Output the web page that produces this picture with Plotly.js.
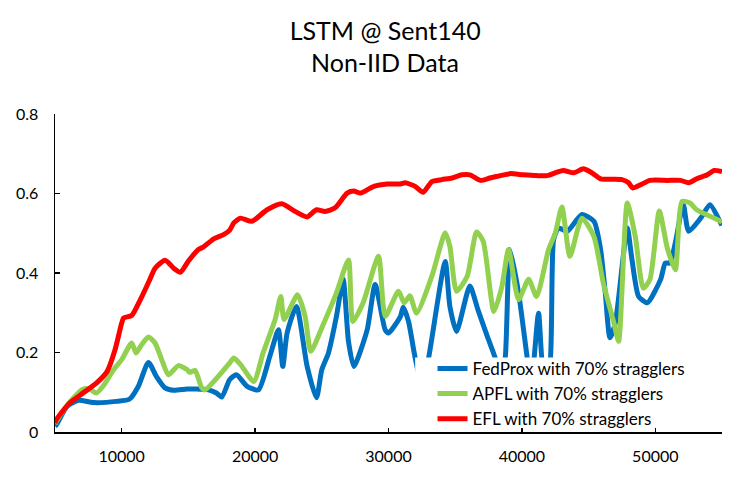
<!DOCTYPE html>
<html>
<head>
<meta charset="utf-8">
<script src="https://cdn.plot.ly/plotly-3.0.1.min.js"></script>
<style>html,body{margin:0;padding:0;background:#fff;}#chart{width:745px;height:483px;}</style>
</head>
<body>
<div id="chart"></div>
<script>
const titleLines = ['LSTM @ Sent140', 'Non-IID Data'];
const xTickVals = [10000, 20000, 30000, 40000, 50000];
const xTickText = ['10000', '20000', '30000', '40000', '50000'];
const yTickVals = [0, 0.2, 0.4, 0.6, 0.8];
const yTickText = ['0', '0.2', '0.4', '0.6', '0.8'];

const seriesNames = ['FedProx with 70% stragglers', 'APFL with 70% stragglers', 'EFL with 70% stragglers'];

const fedproxX = [5000,5100,5900,6750,7900,9600,10600,11250,12000,12600,13250,13900,14900,15600,16500,17100,17500,18100,18600,19400,20250,21100,21750,22075,22400,23100,23900,24600,25000,25500,26100,26600,27000,27400,28400,29000,29750,30000,30900,31100,31500,32000,32500,33000,34250,34600,35100,36100,36700,37400,38000,38400,38750,39100,39750,40400,40700,41250,41650,42000,42375,42750,43400,44500,45400,45900,46250,46600,47000,47900,48250,48750,49400,50400,50750,51100,51500,52100,52500,53400,54100,54900,55000];
const fedproxY = [0.015,0.018,0.064,0.080,0.074,0.077,0.083,0.115,0.175,0.140,0.111,0.105,0.108,0.108,0.106,0.098,0.088,0.132,0.144,0.115,0.106,0.190,0.257,0.165,0.249,0.316,0.165,0.086,0.157,0.199,0.291,0.384,0.228,0.165,0.257,0.371,0.257,0.249,0.291,0.314,0.278,0.186,0.120,0.186,0.429,0.316,0.253,0.367,0.308,0.241,0.186,0.130,0.186,0.459,0.350,0.186,0.120,0.299,0.150,0.150,0.484,0.513,0.505,0.547,0.530,0.459,0.350,0.237,0.274,0.513,0.434,0.341,0.325,0.384,0.425,0.425,0.476,0.572,0.505,0.538,0.572,0.526,0.520];

const apflX = [5000,5100,5750,6500,7100,7600,8100,8600,9400,10000,10750,11075,11500,12000,12500,13000,13500,14250,14900,15100,15500,16000,16250,16900,17500,18100,18400,18900,19900,20600,21500,21925,22175,23175,23750,24175,25100,26100,27000,27325,28100,29250,29750,30750,31175,31600,32100,33250,34250,34600,35100,35900,36600,37100,37900,38500,39000,39750,40500,41100,42000,42500,43000,43600,44500,45400,46100,46900,47250,47900,48500,49100,49600,50300,50900,51500,52000,52600,53100,54900,55000];
const apflY = [0.020,0.027,0.060,0.090,0.108,0.108,0.098,0.115,0.157,0.182,0.224,0.199,0.220,0.239,0.224,0.182,0.144,0.167,0.157,0.150,0.155,0.111,0.106,0.127,0.150,0.174,0.186,0.170,0.127,0.199,0.283,0.341,0.283,0.345,0.291,0.203,0.270,0.350,0.433,0.278,0.325,0.442,0.291,0.354,0.325,0.343,0.299,0.392,0.501,0.467,0.354,0.392,0.503,0.480,0.303,0.366,0.459,0.333,0.384,0.341,0.459,0.500,0.566,0.442,0.538,0.492,0.375,0.274,0.228,0.576,0.492,0.362,0.384,0.556,0.463,0.408,0.580,0.576,0.559,0.530,0.527];

const eflX = [5000,5100,6100,7100,8100,8900,9500,10000,10150,10750,11400,12100,12500,13250,13900,14400,15000,15750,16100,16900,17600,18100,18400,18900,19750,20900,22000,23000,23900,24600,25250,26000,26900,27400,27900,28900,29900,30900,31250,32000,32600,33250,34000,34750,35500,36100,36900,37600,38400,39100,40100,41100,41900,42600,43100,43900,44600,45250,45900,47500,48000,48300,48900,49600,50900,51900,52500,53100,53900,54400,55000];
const eflY = [0.022,0.031,0.073,0.098,0.123,0.152,0.207,0.274,0.287,0.293,0.333,0.383,0.412,0.432,0.412,0.402,0.430,0.459,0.465,0.486,0.496,0.508,0.526,0.538,0.530,0.559,0.574,0.555,0.541,0.559,0.555,0.564,0.601,0.606,0.601,0.618,0.624,0.624,0.627,0.618,0.603,0.630,0.635,0.639,0.647,0.647,0.633,0.639,0.645,0.650,0.647,0.645,0.645,0.653,0.658,0.652,0.662,0.652,0.637,0.635,0.627,0.614,0.622,0.633,0.633,0.633,0.627,0.637,0.647,0.658,0.655];

const colors = ['#0070C0', '#92D050', '#FF0000'];
const FONT = 'Lato, "Open Sans", sans-serif';

const traces = [
  {x: fedproxX, y: fedproxY, name: seriesNames[0]},
  {x: apflX, y: apflY, name: seriesNames[1]},
  {x: eflX, y: eflY, name: seriesNames[2]}
].map((t, i) => Object.assign(t, {
  type: 'scatter', mode: 'lines',
  line: {color: colors[i], width: 5, shape: 'spline', smoothing: 0.6}
}));

const layout = {
  width: 745, height: 483,
  paper_bgcolor: '#fff', plot_bgcolor: '#fff',
  margin: {l: 55, r: 23, t: 114, b: 51},
  font: {family: FONT, size: 16, color: '#000'},
  title: {
    text: titleLines[0],
    font: {family: FONT, size: 25, color: '#000'},
    x: 0.517, xanchor: 'center', xref: 'container',
    y: 0.936, yanchor: 'middle', yref: 'container'
  },
  annotations: [{
    text: titleLines[1], showarrow: false,
    xref: 'paper', yref: 'paper', x: 0.495, y: 1.163,
    xanchor: 'center', yanchor: 'middle',
    font: {family: FONT, size: 25, color: '#000'}
  }],
  // white panel behind the legend (hides lines there, keeps axis line and ticks)
  shapes: [{
    type: 'rect', layer: 'above', xref: 'paper', yref: 'paper',
    x0: 0.54, x1: 1.0, y0: 0.018, y1: 0.234,
    fillcolor: '#fff', line: {width: 0}
  }],
  xaxis: {
    range: [5000, 55000],
    tickvals: xTickVals, ticktext: xTickText,
    showgrid: false, zeroline: false,
    showline: true, linecolor: '#000', linewidth: 1.5,
    ticks: 'inside', ticklen: 4, tickwidth: 1.5, tickcolor: '#000',
    ticklabelstandoff: 9,
    tickfont: {family: FONT, size: 16, color: '#000'}
  },
  yaxis: {
    range: [0, 0.8],
    tickvals: yTickVals, ticktext: yTickText,
    showgrid: false, zeroline: false,
    showline: true, linecolor: '#000', linewidth: 1.5,
    ticks: 'inside', ticklen: 5, tickwidth: 1.5, tickcolor: '#000',
    ticklabelstandoff: 12,
    tickfont: {family: FONT, size: 16, color: '#000'}
  },
  showlegend: true,
  legend: {
    x: 0.566, y: 0.255, xanchor: 'left', yanchor: 'top',
    bgcolor: 'rgba(255,255,255,0)', borderwidth: 0,
    font: {family: FONT, size: 17, color: '#000'},
    traceorder: 'normal'
  }
};

Plotly.newPlot('chart', traces, layout, {displayModeBar: false, staticPlot: true});
</script>
</body>
</html>
